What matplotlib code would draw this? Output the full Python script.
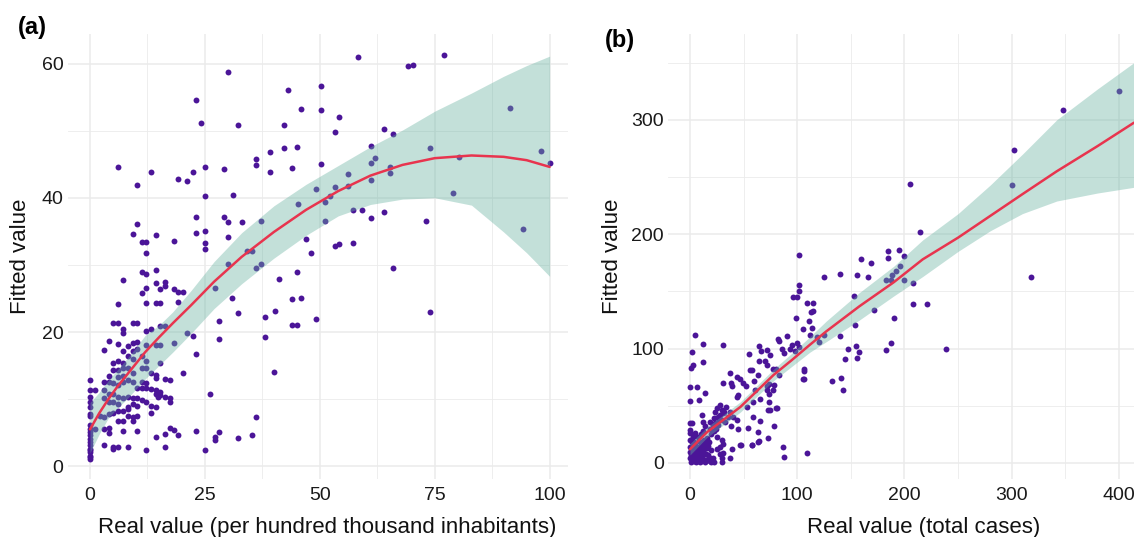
import matplotlib
matplotlib.use("Agg")
import matplotlib.pyplot as plt
import numpy as np

plt.rcParams['font.family'] = ['Liberation Sans', 'DejaVu Sans']

# ---------------- Panel (a) data ----------------
a_pts = [
(30.0,58.7),(58.2,61.0),(77.1,61.3),(69.1,59.6),(70.2,59.8),(43.0,56.1),(50.3,56.6),(23.1,54.5),(46.0,53.2),(50.3,53.1),
(54.2,52.0),(24.1,51.2),(32.1,50.8),(42.1,50.9),(53.2,49.8),(64.0,50.3),(66.0,49.5),(91.3,53.4),(42.1,47.4),(45.1,47.6),
(39.1,46.8),(61.1,47.7),(74.0,47.4),(98.2,47.0),(36.1,45.8),(36.1,44.9),(39.1,43.8),(43.9,44.4),(50.3,45.0),(62.1,45.9),
(61.1,45.2),(65.2,44.6),(65.2,43.7),(80.2,46.1),(100.1,45.2),(25.1,44.6),(29.2,44.3),(22.3,43.9),(21.2,42.5),(19.2,42.8),
(13.2,43.9),(6.1,44.6),(10.2,41.9),(25.1,40.2),(31.1,40.4),(56.2,43.5),(53.2,41.6),(49.2,41.3),(52.2,40.3),(56.2,41.7),
(51.1,39.4),(61.1,42.6),(79.0,40.7),(45.2,39.1),(23.1,37.2),(29.2,37.1),(30.1,36.4),(33.0,36.4),(37.1,36.5),(51.1,36.5),
(57.2,38.2),(59.2,38.2),(61.1,37.0),(64.0,37.9),(73.1,36.5),(94.1,35.4),(10.2,36.1),(9.4,34.6),(14.3,34.4),(23.1,34.8),
(25.1,35.0),(30.1,34.2),(11.3,33.4),(12.2,33.4),(12.2,31.7),(18.2,33.5),(25.1,33.3),(25.1,32.4),(47.1,33.8),(48.1,31.7),
(53.2,32.8),(54.2,33.1),(57.2,33.3),(34.1,32.1),(35.2,32.1),(30.1,30.1),(36.1,29.5),(37.1,30.1),(66.0,29.5),(11.3,28.9),
(12.2,28.6),(14.3,29.3),(7.1,27.8),(14.3,27.3),(16.3,27.4),(16.3,26.9),(12.2,26.6),(15.2,26.4),(18.2,26.4),(19.2,26.0),
(20.2,26.0),(11.3,25.8),(27.2,26.6),(31.0,25.1),(41.1,27.9),(45.1,28.9),(44.0,24.9),(45.9,25.0),(32.1,22.8),(40.2,23.1),
(38.1,22.2),(49.2,22.0),(28.1,21.7),(74.0,23.0),(44.0,21.1),(45.1,21.1),(6.1,24.1),(12.2,24.3),(14.3,24.3),(15.2,24.3),
(19.2,24.4),(5.1,21.3),(6.1,21.4),(7.1,20.5),(7.1,19.9),(9.4,21.3),(10.2,21.4),(13.2,20.5),(15.2,20.9),(16.3,20.9),
(12.2,20.2),(21.2,19.9),(22.3,19.4),(28.1,19.0),(38.1,19.3),(4.1,18.6),(3.1,17.3),(6.1,18.2),(8.3,17.9),(9.4,18.3),
(10.2,18.5),(12.2,18.0),(14.3,18.1),(15.2,18.1),(18.2,18.3),(23.1,16.7),(7.1,17.1),(9.4,17.2),(10.2,17.5),(6.1,15.7),
(7.1,15.4),(5.1,15.4),(8.3,16.4),(9.4,16.0),(11.3,16.4),(12.2,15.7),(12.2,14.6),(11.3,14.6),(15.2,15.4),(20.2,13.9),
(40.1,14.0),(6.1,14.4),(7.1,14.6),(8.3,14.6),(5.1,14.4),(4.1,13.5),(6.1,13.3),(7.1,13.4),(9.4,13.9),(13.2,13.9),
(14.3,13.6),(14.3,13.1),(16.3,13.0),(17.3,12.9),(3.1,12.6),(4.1,12.6),(5.1,12.4),(6.1,12.1),(7.1,12.6),(8.3,12.9),
(9.4,12.6),(11.3,12.6),(12.2,12.4),(10.2,11.6),(11.3,11.6),(12.2,11.6),(13.2,11.5),(14.3,11.3),(15.2,11.1),(14.3,10.8),
(15.2,10.6),(14.8,10.3),(0,12.8),(0,11.3),(0,10.3),(0,9.5),(0,8.8),(0,7.8),(0,7.5),(1.0,11.3),
(3.1,11.3),(4.1,10.8),(3.1,10.1),(4.1,9.5),(5.1,10.8),(6.1,10.3),(7.1,10.1),(5.1,9.5),(6.1,9.3),(8.3,10.3),
(9.4,10.1),(10.2,10.1),(11.3,9.8),(9.4,9.3),(10.2,9.0),(12.2,9.5),(13.2,9.0),(14.3,8.8),(16.3,10.3),(17.3,10.1),
(17.3,9.5),(1.1,5.5),(2.1,7.5),(3.1,7.3),(4.1,7.8),(5.1,8.0),(6.1,8.3),(7.1,8.3),(8.3,8.5),(6.1,6.7),
(7.1,6.7),(8.3,7.5),(9.4,7.3),(10.2,7.5),(8.3,8.8),(13.2,8.0),(3.1,5.5),(4.1,5.7),(4.1,5.0),(7.1,5.2),
(9.4,6.7),(10.2,5.2),(3.1,3.1),(5.1,2.9),(6.1,2.9),(5.1,2.6),(8.3,2.9),(12.2,2.4),(14.3,4.3),(16.3,2.9),
(16.3,4.8),(17.3,5.7),(18.2,5.4),(19.2,4.6),(23.1,5.2),(25.1,2.4),(26.1,10.8),(27.2,4.3),(27.2,3.9),(28.1,5.1),
(32.1,4.2),(35.2,4.6),(36.1,7.3),(0,1.1),(0,1.6),(0,2.1),(0,2.6),(0,3.1),(0,3.6),(0,4.1),
(0,4.6),(0,5.1),(0,5.6),(0,6.1),(0,1.4),(0,2.4),
]
a_x = [p[0] for p in a_pts]
a_y = [p[1] for p in a_pts]

a_fit_x  = [0, 2, 4, 6, 8, 10, 12, 15, 18, 22, 27, 33, 40, 47, 54, 61, 68, 75, 83, 90, 95, 100]
a_fit    = [5.5, 7.9, 10.0, 11.9, 13.6, 15.3, 17.0, 19.2, 21.3, 24.0, 27.5, 31.2, 34.9, 38.2, 41.0, 43.3, 44.9, 45.9, 46.3, 46.1, 45.6, 44.6]
a_fit_lo = [2.0, 4.8, 7.2, 8.7, 10.0, 11.5, 13.0, 15.0, 17.0, 19.8, 23.5, 27.2, 31.0, 34.4, 37.3, 39.0, 39.8, 40.0, 38.9, 34.9, 31.8, 28.3]
a_fit_hi = [9.5, 11.0, 12.8, 14.4, 16.0, 17.7, 19.5, 21.0, 23.0, 26.2, 30.5, 34.8, 38.8, 42.0, 44.8, 47.6, 50.1, 52.9, 55.6, 58.1, 59.7, 61.1]

# ---------------- Panel (b) data ----------------
b_pts = [
(400,325),(348,309),(302,274),(300,243),(318,163),(205,244),(214,202),(239,100),(102,182),(185,185),
(185,179),(195,186),(200,181),(159,178),(169,175),(140,165),(125,163),(156,164),(166,163),(196,172),
(192,168),(188,164),(187,160),(183,160),(200,160),(208,157),(102,156),(102,150),(96,145),(100,145),
(153,146),(109,140),(113,132),(115,140),(115,133),(99,127),(111,124),(208,139),(221,139),(172,134),
(190,127),(154,121),(105,117),(114,118),(125,112),(140,111),(187,105),(183,99),(155,102),(158,97),
(156,92),(147,100),(145,91),(132,72),(141,74),(143,64),(106,82),(106,73),(112,112),(90,111),(83,107),
(5,112),(12,104),(31,103),(2,97),(12,88),(2.5,86),(0.6,83),(0,66),(7,66),(14,61),(8,55),(0,54),(0,35),(2,35),
(55,95),(64,102),(66,98),(72,99),(75,94),(82,108),
(64,89),(70,89),(72,86),(56,81),(58,81),(37,79),(31,70),(38,70),(43.5,75),(47,73),(49,70),(39,67),(80,82),(83,77),
(77,82),(60,72),(63,77),(52,67),(74,69),(72,67),(77,64),(61,64),(45,59),(44,58),(53,49),(59,53),(65,56),(74,53),
(75,46),(80,48),(78,68),(72,64),(74,60),(81,48),(73,46),(59,40),(65,37),(54,31),(63,27),(73,22),(78,32),(87,14),
(88,5),(109,9),(48,16),(58,16),(63,18),(57.5,16),(64,19),(47,16),(39,12),(31,17),(31,8.5),(30,4),(106,80),(105,73),
(93,100),(95,103),(98,98),(100,105),(102,101),(88,96),(86,100),(118,110),(120,106),
(0,29),(3,23),(0,26),(4.7,26),(1.6,18.7),(3.1,14),(4.7,10),(6.2,5.5),(1.6,5.5),(9.3,8.5),(12.4,11.4),(15.5,13),
(18.6,4),(21.7,4),(20,11.4),(28,14),(29.5,20),(25,23),(15.5,20),(11,17),(7.8,23),(0,14),(0,4),(2.5,2.6),(12.4,3.2),
(17,7),(28,7.9),(37,4),(1,1),(2,3),(4,2),(5,6),(6,8),(8,3),(10,2),(3,8),(7,12),(9,15),(11,6),(13,9),(14,16),(16,22),
(18,18),(20,25),(22,28),(24,30),(26,33),(27,38),(19,2),(22,1),(25,12),(5,16),(8,19),(10,25),(12,28),
(11,42),(12,36),(14,32),(19,36),(22,39),(23,45),(25,48),(28,51),(30,46),(31,43.5),(34,49),(37,45),(40,40),(43.5,38),
(38,32),(45,30),(0,20),(0,10),(1,7),(3,4),(6,1),(9,1),(14,1),(16,3),(20,1),(30,1),(2,12),(4,18),(6,13),(8,10),
(10,13),(13,20),(15,8),(17,15),(19,30),(21,33),(23,35),(26,40),(28,42),(30,38),(32,45),(35,40),(33,36),
]
b_x = [p[0] for p in b_pts]
b_y = [p[1] for p in b_pts]

b_fit_x  = [0, 16, 47, 78, 95, 112, 127, 158, 190, 217, 250, 280, 310, 342, 380, 414]
b_fit    = [12, 27, 49, 77, 90, 103.5, 115, 137, 158, 178, 197, 216, 235, 255, 277, 297.5]
b_fit_lo = [7, 22.5, 44.5, 72, 84.5, 97, 106, 125, 146, 163, 185, 203, 218, 229, 236, 241]
b_fit_hi = [17, 31.5, 53.5, 82, 96, 110.5, 124, 149, 172, 195, 218, 243, 270, 300, 327, 350]

# ---------------- styling ----------------
PT_COLOR = '#4b1598'
RIB_COLOR = '#69b3a2'
LINE_COLOR = '#e8344e'
GRID = '#ebebeb'

W, H = 1134, 537
fig = plt.figure(figsize=(W/100, H/100), dpi=100)

def px_axes(l, r, t, b):
    return fig.add_axes([l/W, 1 - b/H, (r - l)/W, (b - t)/H])

def style(ax, xmaj, xmin, ymaj, ymin):
    ax.set_facecolor('white')
    for s in ax.spines.values():
        s.set_visible(False)
    ax.set_xticks(xmaj)
    ax.set_xticks(xmin, minor=True)
    ax.set_yticks(ymaj)
    ax.set_yticks(ymin, minor=True)
    ax.grid(True, which='major', color=GRID, linewidth=1.1, zorder=0)
    ax.grid(True, which='minor', color=GRID, linewidth=0.6, zorder=0)
    ax.set_axisbelow(True)
    ax.tick_params(which='both', length=0, labelsize=14, labelcolor='#1a1a1a')
    ax.tick_params(axis='y', pad=3)
    ax.tick_params(axis='x', pad=6)

# Panel (a)
ax1 = px_axes(67.5, 568, 34, 479)
ax1.scatter(a_x, a_y, s=18, color=PT_COLOR, linewidths=0, zorder=2)
ax1.fill_between(a_fit_x, a_fit_lo, a_fit_hi, color=RIB_COLOR, alpha=0.4, linewidth=0, zorder=3)
ax1.plot(a_fit_x, a_fit, color=LINE_COLOR, linewidth=1.8, zorder=4, solid_capstyle='round', solid_joinstyle='round')
ax1.set_xlim(-4.9, 104)
ax1.set_ylim(-1.9, 64.4)
style(ax1, [0, 25, 50, 75, 100], [12.5, 37.5, 62.5, 87.5], [0, 20, 40, 60], [10, 30, 50])
ax1.set_xlabel('Real value (per hundred thousand inhabitants)', fontsize=16, color='#111111')
ax1.set_ylabel('Fitted value', fontsize=16, color='#111111')
ax1.xaxis.set_label_coords((327 - 67.5) / 500.5, -0.085)
ax1.yaxis.set_label_coords((31 - 67.5) / 500.5, 0.5)

# Panel (b)
ax2 = px_axes(668, 1134, 34, 479)
ax2.scatter(b_x, b_y, s=18, color=PT_COLOR, linewidths=0, zorder=2)
ax2.fill_between(b_fit_x, b_fit_lo, b_fit_hi, color=RIB_COLOR, alpha=0.4, linewidth=0, zorder=3)
ax2.plot(b_fit_x, b_fit, color=LINE_COLOR, linewidth=1.8, zorder=4, solid_capstyle='round', solid_joinstyle='round')
ax2.set_xlim(-20.5, 414)
ax2.set_ylim(-14, 375)
style(ax2, [0, 100, 200, 300, 400], [50, 150, 250, 350], [0, 100, 200, 300], [50, 150, 250, 350])
ax2.set_xlabel('Real value (total cases)', fontsize=16, color='#111111')
ax2.set_ylabel('Fitted value', fontsize=16, color='#111111')
ax2.xaxis.set_label_coords((924 - 668) / 466, -0.085)
ax2.yaxis.set_label_coords((623 - 668) / 466, 0.5)

fig.text(18/W, 1 - 28/H, '(a)', fontsize=17, fontweight='bold', va='center', ha='left')
fig.text(605/W, 1 - 40/H, '(b)', fontsize=17, fontweight='bold', va='center', ha='left')

fig.savefig('out.png', dpi=100)
